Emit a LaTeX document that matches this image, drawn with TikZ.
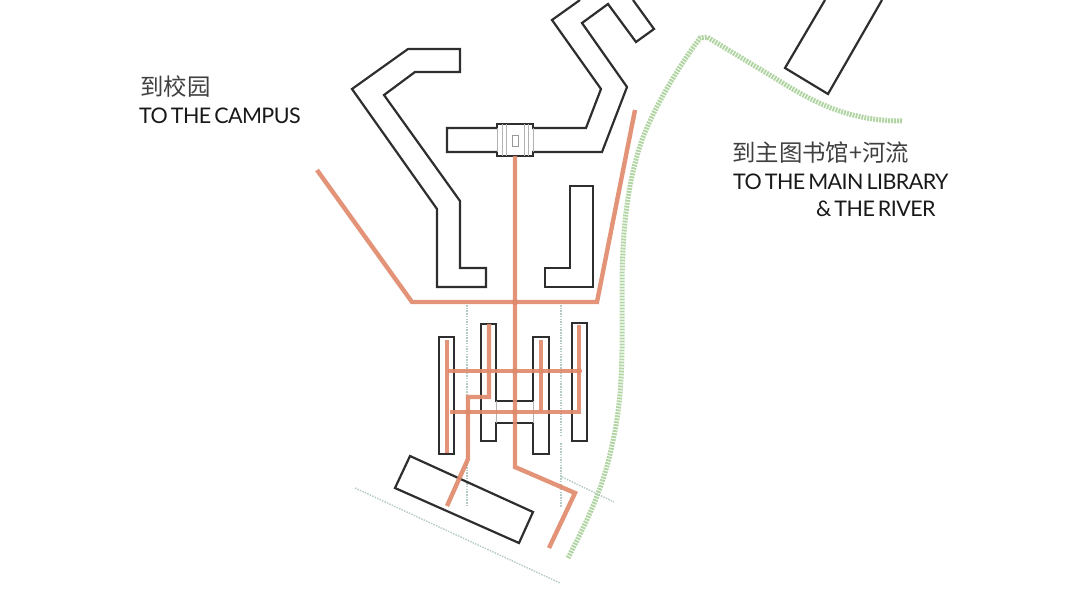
\documentclass[tikz,border=0pt]{standalone}
\usepackage{fontspec}
\setmainfont[LetterSpace=-2.6, WordSpace=0.6]{Lato}
\newfontfamily\cjk{Noto Sans CJK SC}
\usepackage{xcolor}
\definecolor{wallcol}{HTML}{2E2E2E}
\definecolor{routecol}{HTML}{E08A6C}
\definecolor{rivercol}{HTML}{B0D4A2}
\definecolor{gridcol}{HTML}{B4CAC6}
\tikzset{
  wall/.style={draw=wallcol, line width=2.2pt, line join=miter},
  route/.style={draw=routecol, line width=4.4pt, line join=miter, opacity=0.92},
  routedot/.style={fill=routecol},
  river/.style={draw=rivercol, line width=5pt, dash pattern=on 1.9pt off 1.1pt},
  gridline/.style={draw=gridcol, line width=1.4pt, dash pattern=on 1.5pt off 1.2pt},
  thinline/.style={draw=black!30, line width=0.7pt},
  label/.style={font=\fontsize{21.5}{25}\selectfont, text=black!90, inner sep=0pt, anchor=west},
  labelcn/.style={font=\fontsize{23.4}{25}\selectfont, text=black!75, inner sep=0pt, anchor=west},
}
\begin{document}
\begin{tikzpicture}[x=1pt, y=-1pt]
  \useasboundingbox (0,0) rectangle (1080,605);

  % River path
  \draw[river] (568,558) .. controls (585,525) and (603,490) .. (612,445)
    .. controls (624,395) and (622,340) .. (622,297)
    .. controls (622,240) and (625,190) .. (642,140)
    .. controls (655,105) and (680,65) .. (700,38)
    -- (707,37) -- (773,77)
    .. controls (810,100) and (845,121) .. (903,121);

  % Thin site lines
  \draw[gridline] (467,305) -- (467,507);
  \draw[gridline] (561,305) -- (561,437);
  \draw[gridline] (561,443) -- (561,507);
  \draw[gridline] (562,477) -- (614,502);
  \draw[gridline] (355,488) -- (560,583);

  % Upper left building
  \draw[wall] (352,89) -- (408,49) -- (460,49) -- (460,72) -- (415,72) -- (384,95)
    -- (460,201) -- (460,268) -- (486,268) -- (486,287) -- (437,287) -- (437,209) -- cycle;

  % Upper right building
  \draw[wall] (580,0) -- (552,20) -- (601,89) -- (586,128) -- (497,128) -- (447,128)
    -- (447,152) -- (602,152) -- (627,87) -- (582,23) -- (608,4) -- (636,42)
    -- (654,29) -- (633,0);

  % Entrance block
  \fill[white] (498,125) rectangle (532,155);
  \draw[wall, line width=1.8pt] (497,128) -- (497,124) -- (533,124) -- (533,128)
    (497,152) -- (497,156) -- (533,156) -- (533,152);
  \draw[thinline] (497,128) -- (497,152) (533,128) -- (533,152)
    (502,124) -- (502,156) (506,124) -- (506,156)
    (524,124) -- (524,156) (528,124) -- (528,156);
  \draw[draw=black!40, line width=0.9pt] (512,135) rectangle (518,146);

  % Lower right building
  \draw[wall] (570,186) -- (593,186) -- (593,287) -- (545,287) -- (545,268) -- (570,268) -- cycle;

  % Far right building
  \draw[wall] (825,0) -- (785,68) -- (828,94) -- (882,0);

  % Slabs
  \draw[wall] (439,337) rectangle (454,454);
  \draw[wall] (481,324) -- (496,324) -- (496,401) -- (533,401) -- (533,337) -- (549,337)
    -- (549,454) -- (533,454) -- (533,423) -- (496,423) -- (496,441) -- (481,441) -- cycle;
  \draw[thinline] (496,401) -- (496,423) (533,401) -- (533,423);
  \draw[wall] (572,323) rectangle (587,441);
  \draw[wall] (410,456) -- (533,512) -- (519,543) -- (395,488) -- cycle;

  % Routes
  \draw[route] (317,170) -- (412,302) -- (597,302) -- (635,110);
  \draw[route] (515,156) -- (515,467) -- (575,493) -- (549,548);
  \draw[route] (447,340) -- (447,453);
  \draw[route] (489,324) -- (489,397) -- (468,397) -- (468,459) -- (447,506);
  \draw[route] (541,340) -- (541,412);
  \draw[route] (579,325) -- (579,412) -- (450,412);
  \draw[route] (448,371) -- (579,371);

  % Junction dots
  \foreach \jx/\jy in {515/302, 515/371, 541/371, 579/371, 515/412, 468/412}
    \fill[routedot] (\jx,\jy) circle (3pt);

  % Labels
  \node[labelcn] (campuscn) at (140,87) {\cjk 到校园};
  \node[label] (campus) at (139,116) {TO THE CAMPUS};
  \node[labelcn] (librarycn) at (732,153) {\cjk 到主图书馆+河流};
  \node[label] (library) at (733,182) {TO THE MAIN LIBRARY};
  \node[label] (river) at (816,209) {\& THE RIVER};
\end{tikzpicture}
\end{document}
